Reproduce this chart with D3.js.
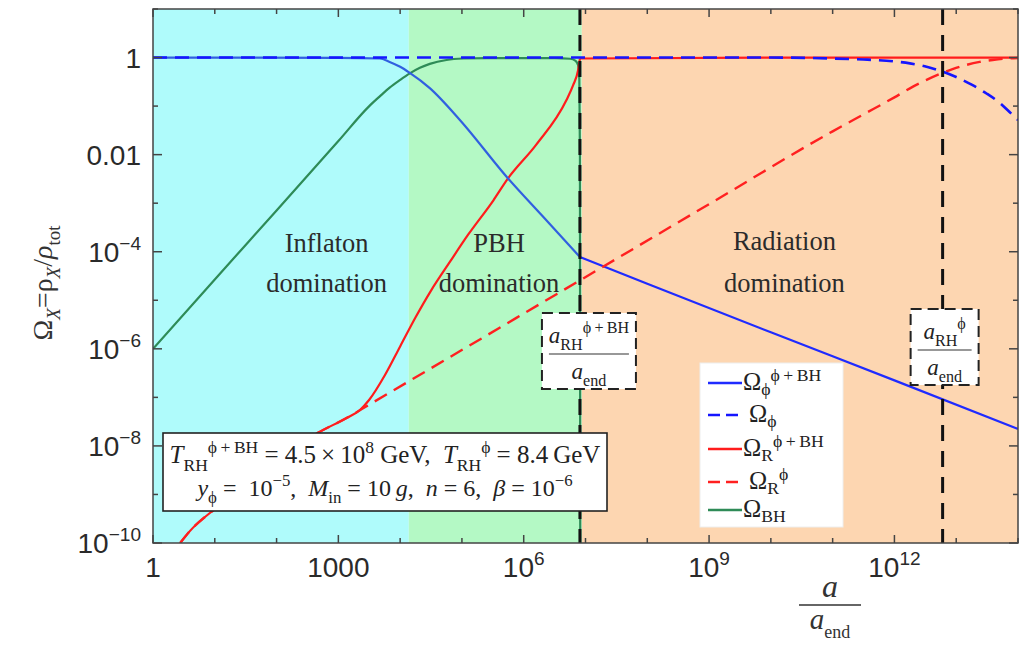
<!DOCTYPE html>
<html><head><meta charset="utf-8">
<script src="https://cdn.jsdelivr.net/npm/d3@7"></script>
<style>body{margin:0;background:#fff}svg{display:block}</style>
</head><body><svg id="c" width="1024" height="646"></svg>
<script>
// ---------------- data (log10 values) ----------------
const xTickExps = [0,1,2,3,4,5,6,7,8,9,10,11,12,13,14];
const xLabelExps = [0,3,6,9,12];
const xLabelBase = ["1","1000","10","10","10"];
const xLabelSup  = ["","","6","9","12"];
const yTickExps = [-10,-9,-8,-7,-6,-5,-4,-3,-2,-1,0,1];
const yLabelExps = [0,-2,-4,-6,-8,-10];
const yLabelBase = ["1","0.01","10","10","10","10"];
const yLabelSup  = ["","","\u22124","\u22126","\u22128","\u221210"];

const regionNames = [["Inflaton","domination"],["PBH","domination"],["Radiation","domination"]];
const regionStart = [0, 4.14, 6.94];
const regionEnd   = [4.14, 6.94, 14];

const aRHphiBH = 6.91;   // log10 a_RH^{phi+BH}/a_end
const aRHphi   = 12.78;  // log10 a_RH^{phi}/a_end

// Omega_BH
const bhLogA = [0, 1, 2, 3, 3.5, 3.67, 3.83, 4.0, 4.15, 4.32, 4.48, 4.75, 5.02, 5.4, 6.0, 6.5, 6.75, 6.84, 6.88, 6.9, 6.91, 6.915];
const bhLogO = [-6, -4.57, -3.15, -1.72, -1.0, -0.8, -0.62, -0.46, -0.33, -0.21, -0.13, -0.05, -0.02, -0.01, -0.01, -0.01, -0.025, -0.07, -0.16, -0.45, -2.0, -10.2];
// Omega_phi^{phi+BH}
const phiBHLogA = [0, 3, 3.67, 3.83, 4.0, 4.15, 4.48, 4.97, 5.74, 6.3, 6.91, 8, 10, 12, 14];
const phiBHLogO = [0, -0.005, -0.02, -0.09, -0.19, -0.31, -0.63, -1.29, -2.48, -3.26, -4.11, -4.66, -5.66, -6.65, -7.65];
// Omega_phi^{phi}
const phiLogA = [0, 10, 11, 11.5, 12, 12.25, 12.49, 12.73, 12.98, 13.25, 13.49, 13.71, 13.83, 14];
const phiLogO = [0, 0, -0.02, -0.04, -0.08, -0.12, -0.18, -0.27, -0.39, -0.56, -0.74, -0.94, -1.08, -1.29];
// Omega_R^{phi+BH}
const rBHLogA = [0.44, 0.6, 1.0, 1.5, 2.0, 2.67, 3.14, 3.35, 3.5, 3.75, 4.0, 4.25, 4.5, 4.81, 5.1, 5.51, 5.74, 6.2, 6.69, 6.8, 6.88, 6.91, 10, 14];
const rBHLogO = [-10, -9.75, -9.3, -8.8, -8.3, -7.73, -7.42, -7.26, -7.05, -6.55, -5.95, -5.35, -4.8, -4.2, -3.65, -2.94, -2.5, -1.8, -0.88, -0.57, -0.26, -0.02, 0, 0];
// Omega_R^{phi}
const rLogA = [0.44, 0.6, 1.0, 1.5, 2.0, 2.67, 3.14, 3.5, 6.91, 9, 11, 11.5, 12.0, 12.3, 12.52, 12.73, 12.94, 13.17, 13.38, 13.59, 13.82, 14];
const rLogO = [-10, -9.75, -9.3, -8.8, -8.3, -7.73, -7.42, -7.15, -4.59, -3.02, -1.52, -1.17, -0.82, -0.6, -0.46, -0.34, -0.24, -0.15, -0.09, -0.05, -0.02, -0.01];

// ---------------- chart ----------------
const L = 153, R = 1018, T = 9, B = 543;
const x = d3.scaleLog().domain([1, 1e14]).range([L, R]);
const y = d3.scaleLog().domain([1e-10, 10]).range([B, T]);
const svg = d3.select("#c");
const SERIF = "'Liberation Serif','Times New Roman',serif";
const SANS = "'Liberation Sans',Arial,sans-serif";
const regionColors = ["#affbfb", "#b4f9c5", "#fdd6b1"];
const NB = "\u00A0", TH = "\u2009";

function rich(sel, parts, size, ss, subK, supK) {
  ss = ss || 0.68; subK = subK || 0.3; supK = supK || 0.42;
  let cur = 0;
  parts.forEach(p => {
    const ts = sel.append("tspan").text(p.t);
    let target = 0, fs = size;
    if (p.sub) { target = size * subK; fs = size * ss; }
    if (p.sup) { target = -size * supK; fs = size * ss; }
    ts.attr("dy", (target - cur).toFixed(2)).attr("font-size", fs);
    if (p.i) ts.attr("font-style", "italic");
    cur = target;
  });
}

svg.append("defs").append("clipPath").attr("id","clip")
  .append("rect").attr("x",L).attr("y",T).attr("width",R-L).attr("height",B-T);

// regions
svg.append("g").selectAll("rect").data(regionStart).join("rect")
  .attr("x", (d)=>x(10**d)).attr("y", T)
  .attr("width", (d,i)=>x(10**regionEnd[i]) - x(10**d)).attr("height", B-T)
  .attr("fill", (d,i)=>regionColors[i]);

// region labels
const regionLabelX = [2.81, 5.6, 10.22];
regionNames.forEach((nm, i) => {
  const g = svg.append("text").attr("text-anchor","middle")
    .attr("font-family", SERIF).attr("font-size", 26.5).attr("fill","#2b2b2b");
  g.append("tspan").attr("x", x(10**regionLabelX[i])).attr("y", i==2 ? 250 : 252).text(nm[0]);
  g.append("tspan").attr("x", x(10**regionLabelX[i])).attr("y", 292).text(nm[1]);
});

// curves (split at the reheating kink so the kink stays sharp)
const curves = svg.append("g").attr("clip-path","url(#clip)");
function draw(la, lo, colors, dash, w, brk) {
  const pts = la.map((a,i)=>[a, lo[i]]);
  const line = d3.line().x(d=>x(10**d[0])).y(d=>y(10**d[1])).curve(d3.curveMonotoneX);
  const segs = brk === undefined ? [pts] : [pts.filter(p=>p[0]<=brk), pts.filter(p=>p[0]>=brk)];
  segs.forEach((s, k) => {
    curves.append("path").attr("d", line(s)).attr("fill","none")
      .attr("stroke", colors[Math.min(k, colors.length-1)]).attr("stroke-width", w || 2.2)
      .attr("stroke-dasharray", dash || null);
  });
}
draw(bhLogA, bhLogO, ["#2e8b57"]);
draw(rBHLogA, rBHLogO, ["#ff1c1c"], null, 2.2, aRHphiBH);
draw(phiBHLogA, phiBHLogO, ["#3160e0", "#1f2bff"], null, 2.2, aRHphiBH);
draw(rLogA, rLogO, ["#ff2020"], "14,8", 2.4);
draw(phiLogA, phiLogO, ["#1515ff"], "14,8", 2.6);

// vertical dashed reheating lines
[aRHphiBH, aRHphi].forEach(v => {
  svg.append("line").attr("x1", x(10**v)).attr("x2", x(10**v)).attr("y1", T).attr("y2", B)
    .attr("stroke","#111").attr("stroke-width",3).attr("stroke-dasharray","16,10");
});

// frame + ticks
const fr = svg.append("g").attr("stroke","#444").attr("stroke-width",1.5);
fr.append("rect").attr("x",L).attr("y",T).attr("width",R-L).attr("height",B-T).attr("fill","none");
xTickExps.forEach(e => {
  const len = xLabelExps.includes(e) ? 8 : 5;
  const px = x(10**e);
  fr.append("line").attr("x1",px).attr("x2",px).attr("y1",B).attr("y2",B-len);
  fr.append("line").attr("x1",px).attr("x2",px).attr("y1",T).attr("y2",T+len);
});
yTickExps.forEach(e => {
  const len = yLabelExps.includes(e) ? 9 : 5;
  const py = y(10**e);
  fr.append("line").attr("x1",L).attr("x2",L+len).attr("y1",py).attr("y2",py);
  fr.append("line").attr("x1",R).attr("x2",R-len).attr("y1",py).attr("y2",py);
});

// tick labels
xLabelExps.forEach((e,i) => {
  const t = svg.append("text").attr("x", x(10**e)).attr("y", B+34)
    .attr("text-anchor","middle").attr("font-family",SANS).attr("fill","#2a2a2a");
  const parts = [{t:xLabelBase[i]}];
  if (xLabelSup[i]) parts.push({t:xLabelSup[i], sup:true});
  rich(t, parts, 28);
});
yLabelExps.forEach((e,i) => {
  const t = svg.append("text").attr("x", L-12).attr("y", y(10**e)+10)
    .attr("text-anchor","end").attr("font-family",SANS).attr("fill","#2a2a2a");
  const parts = [{t:yLabelBase[i]}];
  if (yLabelSup[i]) parts.push({t:yLabelSup[i], sup:true});
  rich(t, parts, 28);
});

// axis titles
const yt = svg.append("text").attr("transform","translate(52,283) rotate(-90)")
  .attr("text-anchor","middle").attr("font-family",SERIF).attr("fill","#333");
rich(yt, [{t:"\u03A9"},{t:"X",sub:true,i:true},{t:"=\u03C1"},{t:"X",sub:true,i:true},{t:"/"},{t:"\u03C1",i:true},{t:"tot",sub:true}], 28);

const xc = 830;
svg.append("text").attr("x",xc).attr("y",597).attr("text-anchor","middle")
  .attr("font-family",SERIF).attr("font-style","italic").attr("font-size",32).attr("fill","#333").text("a");
svg.append("line").attr("x1",xc-31).attr("x2",xc+31).attr("y1",605).attr("y2",605).attr("stroke","#333").attr("stroke-width",1.5);
const xt = svg.append("text").attr("x",xc).attr("y",629).attr("text-anchor","middle")
  .attr("font-family",SERIF).attr("fill","#333");
rich(xt, [{t:"a",i:true},{t:"end",sub:true}], 29, 0.62);

// a_RH boxes
function rhBox(cx, cy, w, h, sup) {
  const g = svg.append("g");
  g.append("rect").attr("x",cx-w/2).attr("y",cy-h/2).attr("width",w).attr("height",h)
    .attr("fill","#fff").attr("stroke","#222").attr("stroke-width",2).attr("stroke-dasharray","11,6");
  const n = g.append("text").attr("x",cx).attr("y",cy-8).attr("text-anchor","middle")
    .attr("font-family",SERIF).attr("fill","#222");
  rich(n, [{t:"a",i:true},{t:"RH",sub:true},{t:sup,sup:true}], 23, 0.7);
  g.append("line").attr("x1",cx-w/2+7).attr("x2",cx+w/2-7).attr("y1",cy+3).attr("y2",cy+3)
    .attr("stroke","#333").attr("stroke-width",1.2);
  const d = g.append("text").attr("x",cx).attr("y",cy+28).attr("text-anchor","middle")
    .attr("font-family",SERIF).attr("fill","#222");
  rich(d, [{t:"a",i:true},{t:"end",sub:true}], 23, 0.7);
}
rhBox(x(10**aRHphiBH)+9, 351, 94, 76, "\u03D5"+TH+"+"+TH+"BH");
rhBox(x(10**aRHphi)+2, 347, 68, 76, "\u03D5");

// parameter box
const pb = svg.append("g");
pb.append("rect").attr("x",163).attr("y",433).attr("width",444).attr("height",78)
  .attr("fill","#fff").attr("stroke","#222").attr("stroke-width",1.6);
const p1 = pb.append("text").attr("x",385).attr("y",463).attr("text-anchor","middle").attr("font-family",SERIF).attr("fill","#222");
rich(p1, [{t:"T",i:true},{t:"RH",sub:true},{t:"\u03D5"+TH+"+"+TH+"BH",sup:true},{t:" = 4.5"+TH+"\u00D7"+TH+"10"},{t:"8",sup:true},{t:" GeV,"+NB+NB},
  {t:"T",i:true},{t:"RH",sub:true},{t:"\u03D5",sup:true},{t:" = 8.4"+TH+"GeV"}], 25, 0.7);
const p2 = pb.append("text").attr("x",385).attr("y",496).attr("text-anchor","middle").attr("font-family",SERIF).attr("fill","#222");
rich(p2, [{t:"y",i:true},{t:"\u03D5",sub:true},{t:" ="+NB+NB+"10"},{t:"\u22125",sup:true},{t:","+NB+NB},{t:"M",i:true},{t:"in",sub:true},
  {t:" = 10"+TH},{t:"g",i:true},{t:","+NB+NB},{t:"n",i:true},{t:" = 6,"+NB+NB},{t:"\u03B2",i:true},{t:" = 10"},{t:"\u22126",sup:true}], 24, 0.7);

// legend
const lg = svg.append("g");
lg.append("rect").attr("x",700).attr("y",363).attr("width",143).attr("height",164).attr("fill","#fff").attr("stroke","#eee");
const legendItems = [
  {c:"#1f2bff", dash:null, parts:[{t:"\u03A9"},{t:"\u03D5",sub:true},{t:"\u03D5"+TH+"+"+TH+"BH",sup:true}], ly:383},
  {c:"#1515ff", dash:"12,6", parts:[{t:"\u03A9"},{t:"\u03D5",sub:true}], ly:415},
  {c:"#ff1c1c", dash:null, parts:[{t:"\u03A9"},{t:"R",sub:true},{t:"\u03D5"+TH+"+"+TH+"BH",sup:true}], ly:449},
  {c:"#ff2020", dash:"12,6", parts:[{t:"\u03A9"},{t:"R",sub:true},{t:"\u03D5",sup:true}], ly:482},
  {c:"#2e8b57", dash:null, parts:[{t:"\u03A9"},{t:"BH",sub:true}], ly:510}
];
legendItems.forEach(it => {
  lg.append("line").attr("x1",708).attr("x2",742).attr("y1",it.ly).attr("y2",it.ly)
    .attr("stroke",it.c).attr("stroke-width",2.6).attr("stroke-dasharray", it.dash);
  const t = lg.append("text").attr("x", it.dash ? 749 : 743).attr("y", it.ly+7)
    .attr("font-family",SERIF).attr("fill","#222");
  rich(t, it.parts, 24.5, 0.72, 0.22, 0.36);
});
</script></body></html>
